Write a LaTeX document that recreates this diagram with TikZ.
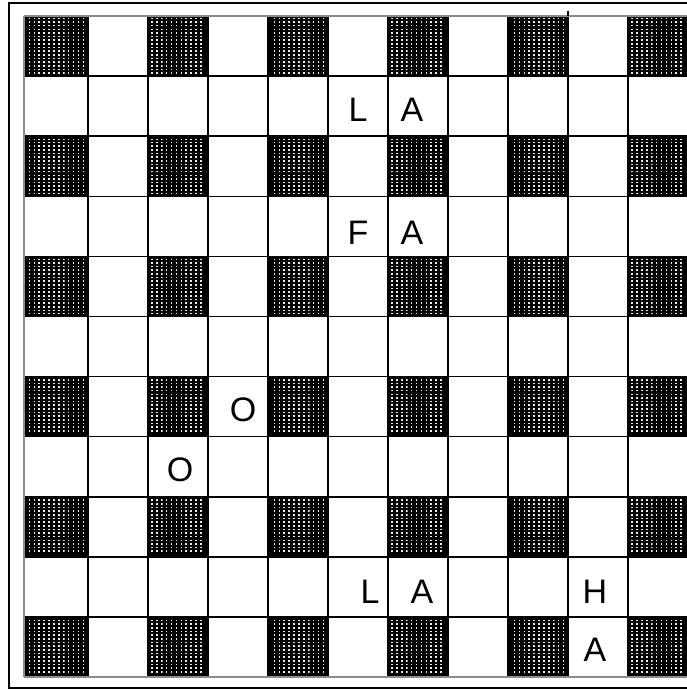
\documentclass[tikz,border=0pt]{standalone}
\usepackage{fontspec}
\setmainfont{Liberation Sans}
\usetikzlibrary{patterns}
\pgfdeclarepatternformonly{cbdots}{\pgfqpoint{-1pt}{-1pt}}{\pgfqpoint{1pt}{1pt}}{\pgfqpoint{4.9pt}{3.65pt}}{\pgfpathrectangle{\pgfqpoint{-0.8pt}{-0.8pt}}{\pgfqpoint{1.6pt}{1.6pt}}\pgfusepath{fill}}
\begin{document}
\begin{tikzpicture}[x=1pt,y=-1pt,
  letter/.style={inner sep=0pt, font=\fontsize{34}{34}\selectfont},
  gridline/.style={line width=1.5pt, black},
  edgeline/.style={line width=1.5pt, black!45},
  framebox/.style={line width=2pt, black}]
\useasboundingbox[fill=white] (0,0) rectangle (686,690);
% dark squares
\foreach \i in {0,2,...,10}{
  \foreach \j in {0,2,...,10}{
    \pgfmathsetmacro\xl{\i==0 ? 24 : 28+60*\i}
    \pgfmathsetmacro\xr{88+60*\i}
    \pgfmathsetmacro\yt{16+60.1*\j}
    \pgfmathsetmacro\yb{76.1+60.1*\j}
    \fill[black] (\xl,\yt) rectangle (\xr,\yb);
    \fill[pattern=cbdots, pattern color=white!85!gray] (\xl+3,\yt+3) rectangle (\xr-4,\yb-3);
  }
}
% grid lines
\foreach \i in {1,...,10}{
  \draw[gridline] (28+60*\i,16) -- (28+60*\i,677.1);
}
\foreach \j in {1,...,10}{
  \draw[gridline] (24,16+60.1*\j) -- (690,16+60.1*\j);
}
\draw[edgeline] (24,16) -- (690,16);
\draw[edgeline] (24,677.1) -- (690,677.1);
\draw[edgeline] (24,16) -- (24,677.1);
\draw[line width=1.5pt] (568,11) -- (568,16);
% outer frame
\draw[framebox] (690,3) -- (9,3) -- (9,688) -- (690,688);
% letters
\node[letter] (l1) at (358,110) {L};
\node[letter] (a1) at (412,110) {A};
\node[letter] (f1) at (358,233) {F};
\node[letter] (a2) at (412,233) {A};
\node[letter] (o1) at (243,410) {O};
\node[letter] (o2) at (180,470) {O};
\node[letter] (l2) at (370,592) {L};
\node[letter] (a3) at (422,592) {A};
\node[letter] (h1) at (595,592) {H};
\node[letter] (a4) at (595,650) {A};
\end{tikzpicture}
\end{document}
